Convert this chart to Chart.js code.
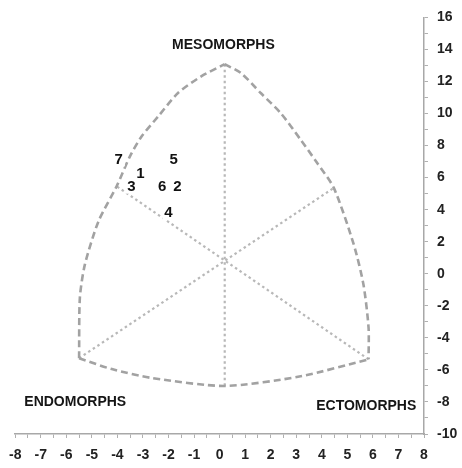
<!DOCTYPE html>
<html>
<head>
<meta charset="utf-8">
<script src="https://cdn.jsdelivr.net/npm/chart.js@4.4.1/dist/chart.umd.min.js"></script>
<style>
  html, body { margin: 0; padding: 0; background: #ffffff; }
  #wrap { width: 462px; height: 468px; }
</style>
</head>
<body>
<div id="wrap"><canvas id="somatochart" width="462" height="468"></canvas></div>
<script>
// Somatochart outline: three curved sides meeting at the corners
const leftArcX   = [-5.5, -5.47, -5.27, -4.74, -4.03, -3.51, -3.05, -2.4, -1.63, -0.72, 0.2];
const leftArcY   = [-5.27, -1.5, 0.6, 3.28, 5.46, 7.33, 8.58, 9.83, 11.28, 12.32, 13.08];
const rightArcX  = [0.2, 0.84, 1.61, 2.39, 3.17, 3.82, 4.47, 5.25, 5.63, 5.83, 5.83];
const rightArcY  = [13.08, 12.52, 11.28, 10.03, 8.37, 6.91, 5.36, 1.83, -0.67, -3.37, -5.34];
const bottomArcX = [-5.5, -4.22, -2.67, 0.2, 3.17, 5.83];
const bottomArcY = [-5.27, -5.95, -6.5, -7.0, -6.4, -5.34];

// Internal axes of the somatochart (dotted)
const axisMesoX  = [0.2, 0.2];
const axisMesoY  = [13.08, -7.0];
const axisEndoX  = [-5.5, 4.47];
const axisEndoY  = [-5.27, 5.36];
const axisEctoX  = [5.83, -4.03];
const axisEctoY  = [-5.34, 5.46];

// Subjects plotted as their numbers
const subjectLabels = ['1', '2', '3', '4', '5', '6', '7'];
const subjectX = [-3.1, -1.65, -3.45, -2.0, -1.8, -2.25, -3.95];
const subjectY = [6.3, 5.5, 5.5, 3.85, 7.15, 5.5, 7.2];

// Somatotype region names
const regionNames = ['MESOMORPHS', 'ENDOMORPHS', 'ECTOMORPHS'];
const regionX = [0.15, -5.65, 5.74];
const regionY = [14.3, -7.95, -8.2];

// Axis ranges and labelled ticks
const xMin = -8, xMax = 8, xStep = 0.5, xLabelEvery = 1;
const yMin = -10, yMax = 16, yStep = 1, yLabelEvery = 2;

const toPoints = (xs, ys) => xs.map((x, i) => ({ x: x, y: ys[i] }));

const dashedStyle = {
  showLine: true, borderColor: '#a2a2a2', borderWidth: 2.6,
  borderDash: [7, 4], tension: 0.25, pointRadius: 0, pointHoverRadius: 0, fill: false
};
const dottedStyle = {
  showLine: true, borderColor: '#b8b8b8', borderWidth: 2.2,
  borderDash: [2.5, 3], tension: 0, pointRadius: 0, pointHoverRadius: 0, fill: false
};

const labelPlugin = {
  id: 'somatoLabels',
  afterDatasetsDraw(chart) {
    const { ctx, scales } = chart;
    const xs = scales.x, ys = scales.y;
    ctx.save();
    ctx.textAlign = 'center';
    ctx.textBaseline = 'middle';

    // subject numbers on white patches
    ctx.font = 'bold 15px "Liberation Sans", Arial, sans-serif';
    subjectLabels.forEach((lab, i) => {
      const px = xs.getPixelForValue(subjectX[i]);
      const py = ys.getPixelForValue(subjectY[i]);
      const w = ctx.measureText(lab).width + 4;
      ctx.fillStyle = '#ffffff';
      ctx.fillRect(px - w / 2, py - 8, w, 16);
      ctx.fillStyle = '#111111';
      ctx.fillText(lab, px, py + 1);
    });

    // region names
    ctx.font = 'bold 14px "Liberation Sans", Arial, sans-serif';
    ctx.fillStyle = '#151515';
    regionNames.forEach((name, i) => {
      ctx.fillText(name, xs.getPixelForValue(regionX[i]), ys.getPixelForValue(regionY[i]) + 1);
    });
    ctx.restore();
  }
};

const tickFont = { family: '"Liberation Sans", Arial, sans-serif', size: 14, weight: 'bold' };

new Chart(document.getElementById('somatochart'), {
  type: 'scatter',
  data: {
    datasets: [
      Object.assign({ label: 'left', data: toPoints(leftArcX, leftArcY) }, dashedStyle),
      Object.assign({ label: 'right', data: toPoints(rightArcX, rightArcY) }, dashedStyle),
      Object.assign({ label: 'bottom', data: toPoints(bottomArcX, bottomArcY) }, dashedStyle),
      Object.assign({ label: 'meso', data: toPoints(axisMesoX, axisMesoY) }, dottedStyle),
      Object.assign({ label: 'endo', data: toPoints(axisEndoX, axisEndoY) }, dottedStyle),
      Object.assign({ label: 'ecto', data: toPoints(axisEctoX, axisEctoY) }, dottedStyle),
      { label: 'subjects', data: toPoints(subjectX, subjectY), pointRadius: 0, pointHoverRadius: 0, showLine: false }
    ]
  },
  options: {
    responsive: false,
    animation: false,
    layout: { padding: { left: 13, top: 16, right: 0, bottom: 0 } },
    plugins: { legend: { display: false }, tooltip: { enabled: false } },
    scales: {
      x: {
        type: 'linear', min: xMin, max: xMax,
        afterFit(scale) { scale.height = 34; },
        border: { display: true, color: '#a8a8a8', width: 1.5 },
        grid: { drawOnChartArea: false, drawTicks: true, tickLength: 4, color: '#b0b0b0', lineWidth: 1 },
        ticks: {
          stepSize: xStep, autoSkip: false, maxRotation: 0, padding: 9,
          color: '#222222', font: tickFont,
          callback: (v) => (Math.abs(v % xLabelEvery) < 1e-9 ? String(v) : '')
        }
      },
      y: {
        type: 'linear', position: 'right', min: yMin, max: yMax,
        afterFit(scale) { scale.width = 38; },
        border: { display: true, color: '#a8a8a8', width: 1.5 },
        grid: { drawOnChartArea: false, drawTicks: true, tickLength: 4, color: '#b0b0b0', lineWidth: 1 },
        ticks: {
          stepSize: yStep, autoSkip: false, padding: 9,
          color: '#222222', font: tickFont,
          callback: (v) => (Math.abs(v % yLabelEvery) < 1e-9 ? String(v) : '')
        }
      }
    }
  },
  plugins: [labelPlugin]
});
</script>
</body>
</html>
